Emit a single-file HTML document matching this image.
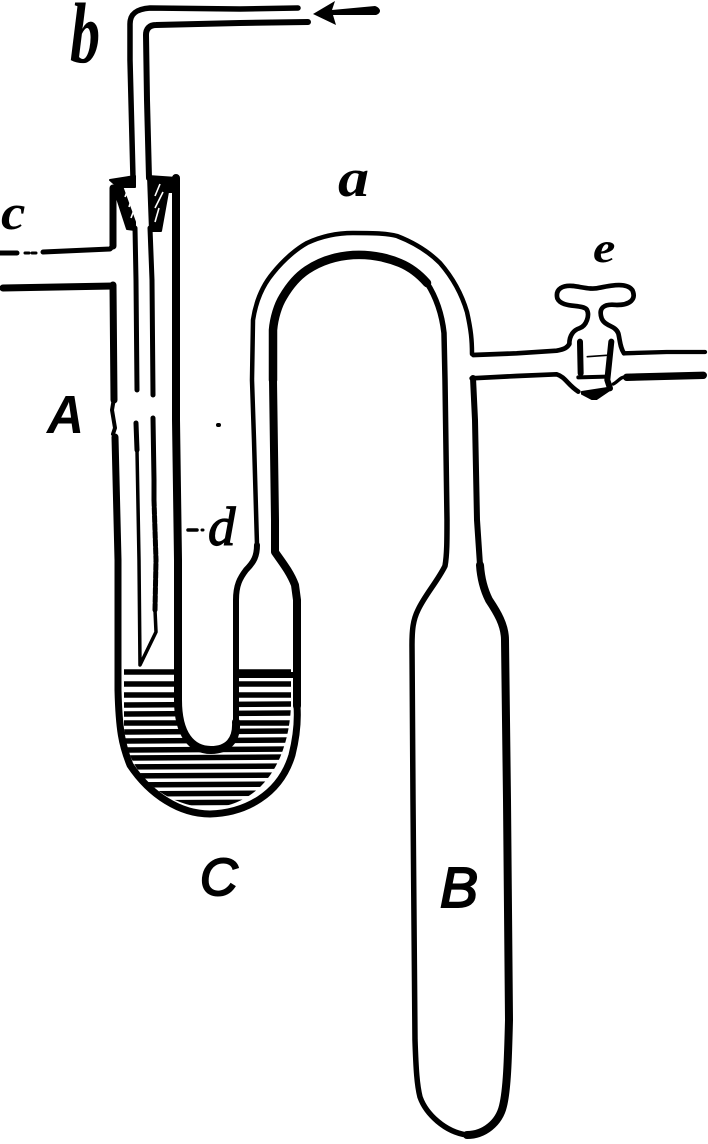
<!DOCTYPE html>
<html><head><meta charset="utf-8"><style>
html,body{margin:0;padding:0;background:#fff;width:708px;height:1144px;overflow:hidden}
svg{display:block}
path{fill:none;stroke:#000;stroke-linecap:round;stroke-linejoin:round}
text{fill:#000}
.s{font-family:"Liberation Serif",serif;font-style:italic;font-weight:bold}
.n{font-family:"Liberation Sans",sans-serif;font-style:italic}
</style></head><body>
<svg width="708" height="1144" viewBox="0 0 708 1144" xmlns="http://www.w3.org/2000/svg">
<defs>
<clipPath id="u"><path d="M124,660 L124,727 C126,775 165,806 210,808 C255,806 288,770 291,706 L291,660 Z"/></clipPath>
</defs>
<rect width="708" height="1144" fill="#fff"/>

<!-- liquid hatch -->
<g clip-path="url(#u)" stroke="#000" stroke-width="5.5">
<line x1="120" y1="672" x2="295" y2="672"/>
<line x1="120" y1="684" x2="295" y2="684"/>
<line x1="120" y1="695" x2="295" y2="695"/>
<line x1="120" y1="705" x2="295" y2="704"/>
<line x1="120" y1="714" x2="295" y2="713"/>
<line x1="120" y1="723" x2="295" y2="723"/>
<line x1="120" y1="732" x2="295" y2="731"/>
<line x1="120" y1="741" x2="295" y2="740"/>
<line x1="120" y1="750" x2="295" y2="749"/>
<line x1="120" y1="758" x2="295" y2="757"/>
<line x1="120" y1="767" x2="295" y2="766"/>
<line x1="120" y1="776" x2="295" y2="775"/>
<line x1="120" y1="785" x2="295" y2="784"/>
<line x1="120" y1="794" x2="295" y2="793"/>
<line x1="120" y1="803" x2="295" y2="802"/>
</g>
<line x1="238" y1="675" x2="294" y2="675" stroke="#000" stroke-width="6"/>
<path d="M178,660 L178,716 C180,740 195,751 212,751 C228,750 236,742 236,725 L236,660 Z" style="fill:#fff;stroke:none"/>

<!-- A right wall + inner U + left shoulder -->
<path stroke-width="8" d="M176,178 L176,420 L178,560 L178,700 C178,735 192,750 211,750 C228,750 237,740 236,722"/>
<path stroke-width="6" d="M236,722 L236,600 C236,585 240,578 246,570 C254,562 257,556 257,545"/>
<path stroke-width="4.5" d="M257,545 L254,440 L252,380 L253,320 C256,300 263,285 273,273 C285,258 298,248 307,243 C322,236 338,233 353,233 C370,233 385,233 397,236 C415,243 430,253 440,263 C453,278 462,295 467,312 C471,330 472,340 472,354"/>
<path stroke-width="8.5" d="M273,380 L273,330 C274,318 278,305 283,297 C290,285 298,276 307,270 C322,260 338,256 353,255 C372,254 388,258 400,263 C412,268 420,275 427,283"/>
<path stroke-width="5.5" d="M427,283 C436,297 442,315 444,333 L445,380 L447,520 C447,540 447,555 445,566 C437,582 425,595 418,610 C413,620 412,630 412,645 L413,800 L415,1040 C416,1070 417,1085 420,1097 C426,1114 445,1132 467,1135"/>
<path stroke-width="8" d="M467,1135 C484,1135 499,1123 503,1106 C507,1090 508,1060 509,1020 L507,800 L505,640 C505,625 497,612 489,600 C484,590 481,580 480,565"/>
<path stroke-width="6" d="M480,565 L477,520 L475,420 L473,378"/>
<path stroke-width="8" d="M273,380 L275,520 C275,535 275,545 275,552 C282,562 290,572 295,585 L297,600 L297,706"/>

<!-- left wall and U bottom -->
<path stroke-width="7" d="M113,188 L113,246 M113,285 L114,400 M115,437 L118,560 L118,690 C119,730 122,745 130,765 C150,795 180,814 210,814 C245,813 280,795 292,755 C297,735 298,720 297,706"/>
<path stroke-width="4" d="M114,398 L112,410 L115,428 L113,434"/>

<!-- side tube c -->
<path stroke-width="5" d="M43,252 L110,249 L113,246"/>
<path stroke-width="5" d="M0,253 L17,253"/>
<path stroke-width="3" d="M25,253 L37,253" stroke-dasharray="4 3"/>
<path stroke-width="7" d="M3,288 L113,286"/>

<!-- stopper -->
<path style="fill:#000;stroke:#000" stroke-width="2" d="M110,180 L135,176 L135,187 L118,187 Z"/>
<path style="fill:#000;stroke:#000" stroke-width="2" d="M148,176 L177,178 L177,192 L168,192 L161,231 L150,231 Z"/>
<path style="fill:#000;stroke:#000" stroke-width="2" d="M113,186 L122,186 L135,222 L135,230 L127,229 Z"/>
<g stroke="#fff" stroke-width="1.6">
<line x1="155" y1="196" x2="160" y2="184"/>
<line x1="155" y1="208" x2="163" y2="192"/>
<line x1="155" y1="222" x2="159" y2="208"/>
<line x1="125" y1="197" x2="128" y2="189"/>
<line x1="129" y1="207" x2="133" y2="194"/>
<line x1="131" y1="218" x2="134" y2="210"/>
</g>

<!-- inner tube b -->
<path stroke-width="5.5" d="M298,8 L240,9 L150,8 C136,9 130,14 130,24 L130,60 L133,178"/>
<path stroke-width="6" d="M308,22 L240,23 L156,25 C149,25 146,29 146,35 L147,100 L149,178"/>
<path stroke-width="5" d="M135,228 L136,280 L137,390 M136,423 L137,450"/>
<path stroke-width="3.5" d="M137,450 L139,560 L140,665 L156,632 L155,610"/>
<path stroke-width="5" d="M150,228 L152,280 L153,395 M153,418 L154,480 L154,500"/>
<path stroke-width="5" stroke-dasharray="6 2" stroke-linecap="butt" d="M154,500 L156,560 L155,610"/>

<!-- arrow -->
<path style="fill:#000;stroke:none" d="M313,14 L335,1 L332,10 L375,6 C381,8 382,13 376,15 L333,15 L336,25 Z"/>

<!-- side arm and stopcock -->
<g transform="translate(450,240) scale(.3333)">
<path stroke-width="14" d="M70,345 L200,340 L320,332 C345,328 352,322 358,312"/>
<path stroke-width="14" d="M358,312 C358,285 372,270 388,265 C410,258 420,225 410,208 C395,192 335,205 322,175 C315,145 340,135 370,138 C400,142 425,150 450,143 C490,135 530,128 547,150 C560,178 540,195 500,195 C460,190 445,205 455,235 C465,260 495,255 505,280 C510,300 510,322 522,340"/>
<path stroke-width="13" d="M522,340 L650,336 L765,336"/>
<path stroke-width="14" d="M65,415 L200,408 L320,403 C348,412 350,432 385,455"/>
<path stroke-width="22" d="M530,412 L760,406"/>
<path stroke-width="10" d="M490,432 C505,425 510,410 530,410"/>
<path stroke-width="18" d="M390,305 L392,400 M484,305 L472,420 L480,445"/>
<path stroke-width="5" d="M412,350 L470,346"/>
<path stroke-width="12" d="M385,412 L470,410"/>
<path style="fill:#000;stroke:#000" stroke-width="4" d="M395,455 L480,442 L478,452 L440,478 L425,478 L395,462 Z"/>
</g>

<!-- labels -->
<text class="s" font-size="86" transform="translate(70,62) scale(.7,1)">b</text>
<text class="s" font-size="50" transform="translate(1,229) scale(1.1,1)">c</text>
<text class="s" font-size="54" transform="translate(338,196) scale(1.15,1)">a</text>
<text class="s" font-size="42" transform="translate(593,262) scale(1.2,1)">e</text>
<text class="n" font-weight="bold" font-size="54" transform="translate(47,433) scale(.95,1)">A</text>
<text class="n" font-size="52" x="200" y="895" stroke="#000" stroke-width="2">C</text>
<text class="n" font-size="57" x="440" y="907" stroke="#000" stroke-width="2">B</text>
<text font-family="Liberation Serif, serif" font-style="italic" font-size="55" x="208" y="545" stroke="#000" stroke-width="1.2">d</text>
<path stroke-width="3.5" d="M188,530 L197,530"/>
<path stroke-width="3" d="M202,530 L203,530"/>
<path stroke-width="4" d="M218,425 L219,425"/>
</svg>
</body></html>
